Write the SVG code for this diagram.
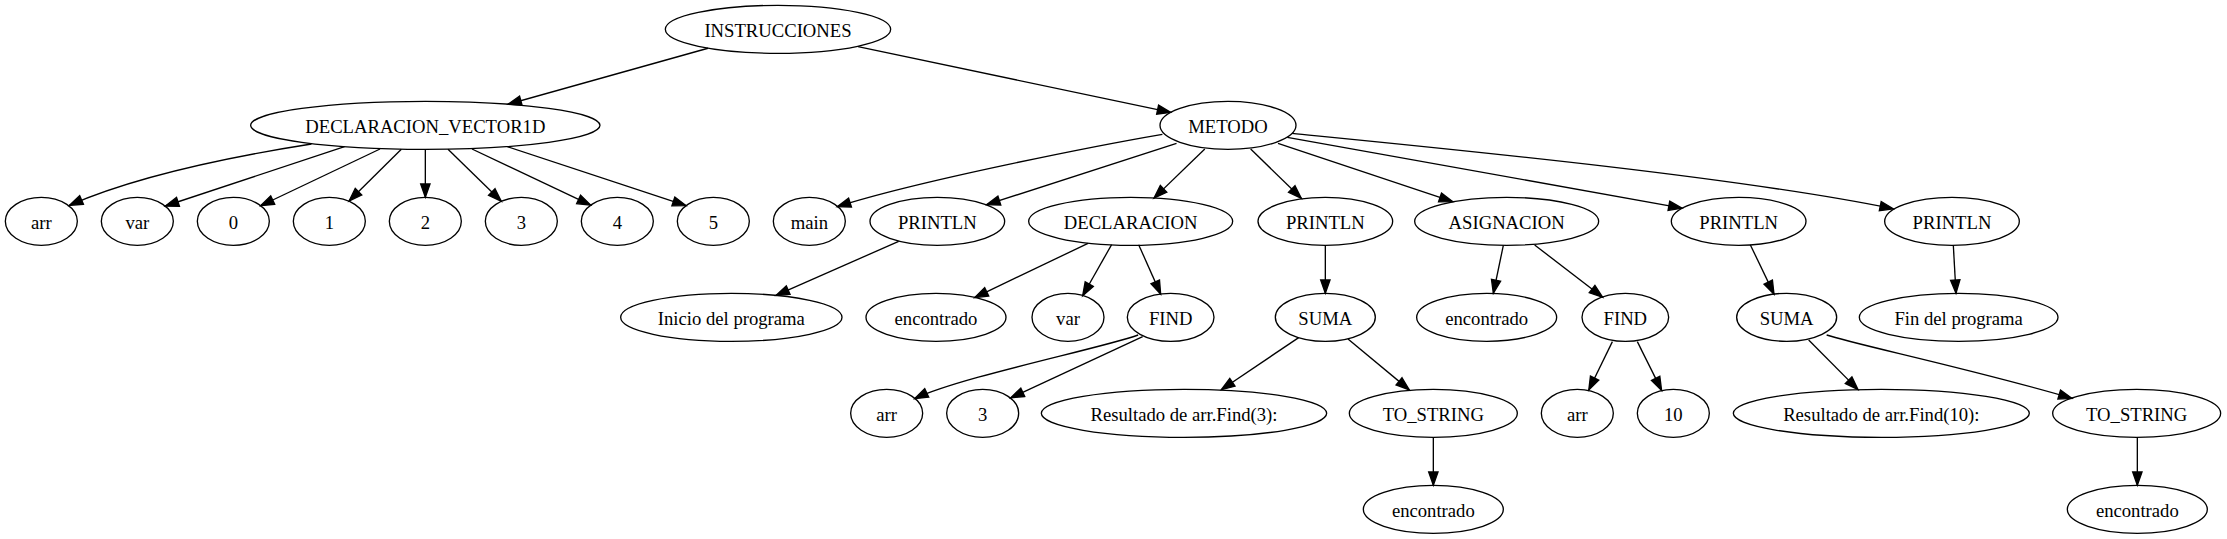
<svg xmlns="http://www.w3.org/2000/svg" width="2227" height="539" viewBox="0 0 2227 539">
<style>
.n ellipse{fill:none;stroke:#000;stroke-width:1}
.n text{font-family:"Liberation Serif","Times New Roman",serif;font-size:14px;text-anchor:middle;fill:#000}
.e path{fill:none;stroke:#000;stroke-width:1;marker-end:url(#ah)}
</style>
<defs>
<marker id="ah" markerUnits="userSpaceOnUse" markerWidth="12" markerHeight="9" refX="10" refY="3.5" orient="auto" overflow="visible">
<path d="M0,0 L10,3.5 L0,7 z" fill="#000" stroke="#000" stroke-width="1"/>
</marker>
</defs>
<rect width="2227" height="539" fill="#fff"/>
<g transform="scale(1.33333)">
<g id="edges" class="e">
<path d="M531,36.2 L381,78.2"/>
<path d="M643.5,35 L878,84.3"/>
<path d="M233.6,108 C170,118 100,133 52,154"/>
<path d="M258.4,110 L124,154.5"/>
<path d="M285,111.75 L195.5,154.3"/>
<path d="M301,112 L261.8,150.8"/>
<path d="M319,112 L319,148"/>
<path d="M336,111.9 L376,151"/>
<path d="M354,111.75 L443,153.8"/>
<path d="M380.5,110 L514.5,154.2"/>
<path d="M871.8,100.75 C823.5,109 689,135.5 628,155"/>
<path d="M882.4,107.5 L740,153.5"/>
<path d="M903.6,111.75 L865.5,148.6"/>
<path d="M938,111.75 L976,148.75"/>
<path d="M958.5,107.5 L1089.5,151.25"/>
<path d="M965.5,103 L1261.5,156.1"/>
<path d="M969,100 C1080,111 1300,132 1420,156.6"/>
<path d="M674,181 L582,221.6"/>
<path d="M816,182.5 L731,223.2"/>
<path d="M833.7,183.5 L812,221.8"/>
<path d="M854,183.5 L870.5,220.6"/>
<path d="M994,184 L994,220"/>
<path d="M1127.5,184 L1120,220"/>
<path d="M1151,183.75 L1202,222.9"/>
<path d="M1312.7,183.5 L1330.5,220.6"/>
<path d="M1465,184 L1467,220"/>
<path d="M853.6,251.25 C827,261 721,282.5 686,299"/>
<path d="M857,252.5 L758,298.4"/>
<path d="M974,253.2 L916,292.3"/>
<path d="M1011,254.3 L1057,292.4"/>
<path d="M1209.3,256.25 L1191.6,292.5"/>
<path d="M1228,256.25 L1246.2,292.8"/>
<path d="M1075,328 L1075,364"/>
<path d="M1356.5,255 L1393.5,292.2"/>
<path d="M1370,251.25 C1390,258 1480,277 1554,298.75"/>
<path d="M1603,328 L1603,364"/>
</g>
<g id="n_instrucciones" class="n"><ellipse cx="583.5" cy="22" rx="84.5" ry="18"/><text x="583.5" y="27.8">INSTRUCCIONES</text></g>
<g id="n_declvec" class="n"><ellipse cx="319" cy="94" rx="131" ry="18"/><text x="319" y="99.8">DECLARACION_VECTOR1D</text></g>
<g id="n_metodo" class="n"><ellipse cx="921" cy="94" rx="51" ry="18"/><text x="921" y="99.8">METODO</text></g>
<g id="n_arr1" class="n"><ellipse cx="31" cy="166" rx="27" ry="18"/><text x="31" y="171.8">arr</text></g>
<g id="n_var1" class="n"><ellipse cx="103" cy="166" rx="27" ry="18"/><text x="103" y="171.8">var</text></g>
<g id="n_0" class="n"><ellipse cx="175" cy="166" rx="27" ry="18"/><text x="175" y="171.8">0</text></g>
<g id="n_1" class="n"><ellipse cx="247" cy="166" rx="27" ry="18"/><text x="247" y="171.8">1</text></g>
<g id="n_2" class="n"><ellipse cx="319" cy="166" rx="27" ry="18"/><text x="319" y="171.8">2</text></g>
<g id="n_3" class="n"><ellipse cx="391" cy="166" rx="27" ry="18"/><text x="391" y="171.8">3</text></g>
<g id="n_4" class="n"><ellipse cx="463" cy="166" rx="27" ry="18"/><text x="463" y="171.8">4</text></g>
<g id="n_5" class="n"><ellipse cx="535" cy="166" rx="27" ry="18"/><text x="535" y="171.8">5</text></g>
<g id="n_main" class="n"><ellipse cx="607" cy="166" rx="27" ry="18"/><text x="607" y="171.8">main</text></g>
<g id="n_println1" class="n"><ellipse cx="703" cy="166" rx="50.5" ry="18"/><text x="703" y="171.8">PRINTLN</text></g>
<g id="n_declaracion" class="n"><ellipse cx="848" cy="166" rx="76.5" ry="18"/><text x="848" y="171.8">DECLARACION</text></g>
<g id="n_println2" class="n"><ellipse cx="994" cy="166" rx="50.5" ry="18"/><text x="994" y="171.8">PRINTLN</text></g>
<g id="n_asignacion" class="n"><ellipse cx="1130" cy="166" rx="69" ry="18"/><text x="1130" y="171.8">ASIGNACION</text></g>
<g id="n_println3" class="n"><ellipse cx="1304" cy="166" rx="50.5" ry="18"/><text x="1304" y="171.8">PRINTLN</text></g>
<g id="n_println4" class="n"><ellipse cx="1464" cy="166" rx="50.5" ry="18"/><text x="1464" y="171.8">PRINTLN</text></g>
<g id="n_inicio" class="n"><ellipse cx="548.5" cy="238" rx="83" ry="18"/><text x="548.5" y="243.8">Inicio del programa</text></g>
<g id="n_enc1" class="n"><ellipse cx="702" cy="238" rx="52.5" ry="18"/><text x="702" y="243.8">encontrado</text></g>
<g id="n_var2" class="n"><ellipse cx="801" cy="238" rx="27" ry="18"/><text x="801" y="243.8">var</text></g>
<g id="n_find1" class="n"><ellipse cx="878" cy="238" rx="32.5" ry="18"/><text x="878" y="243.8">FIND</text></g>
<g id="n_suma1" class="n"><ellipse cx="994" cy="238" rx="37.5" ry="18"/><text x="994" y="243.8">SUMA</text></g>
<g id="n_enc2" class="n"><ellipse cx="1115" cy="238" rx="52.5" ry="18"/><text x="1115" y="243.8">encontrado</text></g>
<g id="n_find2" class="n"><ellipse cx="1219" cy="238" rx="32.5" ry="18"/><text x="1219" y="243.8">FIND</text></g>
<g id="n_suma2" class="n"><ellipse cx="1340" cy="238" rx="37.5" ry="18"/><text x="1340" y="243.8">SUMA</text></g>
<g id="n_fin" class="n"><ellipse cx="1469" cy="238" rx="74.5" ry="18"/><text x="1469" y="243.8">Fin del programa</text></g>
<g id="n_arr2" class="n"><ellipse cx="665" cy="310" rx="27" ry="18"/><text x="665" y="315.8">arr</text></g>
<g id="n_3b" class="n"><ellipse cx="737" cy="310" rx="27" ry="18"/><text x="737" y="315.8">3</text></g>
<g id="n_res3" class="n"><ellipse cx="888" cy="310" rx="107" ry="18"/><text x="888" y="315.8">Resultado de arr.Find(3):</text></g>
<g id="n_tostring1" class="n"><ellipse cx="1075" cy="310" rx="63" ry="18"/><text x="1075" y="315.8">TO_STRING</text></g>
<g id="n_arr3" class="n"><ellipse cx="1183" cy="310" rx="27" ry="18"/><text x="1183" y="315.8">arr</text></g>
<g id="n_10" class="n"><ellipse cx="1255" cy="310" rx="27" ry="18"/><text x="1255" y="315.8">10</text></g>
<g id="n_res10" class="n"><ellipse cx="1411" cy="310" rx="111" ry="18"/><text x="1411" y="315.8">Resultado de arr.Find(10):</text></g>
<g id="n_tostring2" class="n"><ellipse cx="1602.5" cy="310" rx="63" ry="18"/><text x="1602.5" y="315.8">TO_STRING</text></g>
<g id="n_enc3" class="n"><ellipse cx="1075" cy="382" rx="52.5" ry="18"/><text x="1075" y="387.8">encontrado</text></g>
<g id="n_enc4" class="n"><ellipse cx="1603" cy="382" rx="52.5" ry="18"/><text x="1603" y="387.8">encontrado</text></g>
</g>
</svg>
